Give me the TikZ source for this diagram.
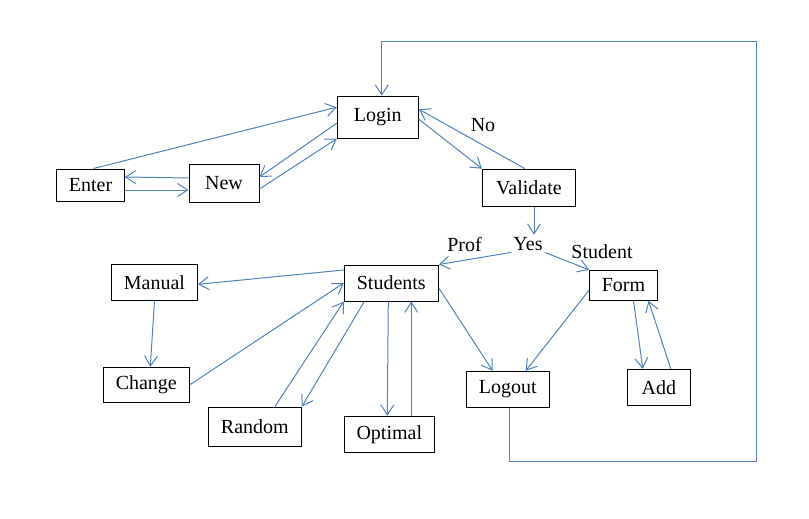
\documentclass[tikz,border=0pt]{standalone}
\usepackage{fontspec}
\setmainfont{Liberation Serif}
\usetikzlibrary{arrows.meta}
\definecolor{flowblue}{RGB}{79,129,189}
\tikzset{
  stepbox/.style={draw=black,line width=1pt,inner sep=0pt,
                  font=\fontsize{20}{24}\selectfont},
  flow/.style={draw=flowblue,line width=1pt,
               -{Straight Barb[length=10pt,width=13pt]}},
  tag/.style={anchor=base,inner sep=2pt,font=\fontsize{20}{24}\selectfont}
}

\begin{document}
\begin{tikzpicture}[x=1pt,y=-1pt]
        \useasboundingbox (0,0) rectangle (809,519);
        % boxes
        \node[stepbox,minimum width=81pt,minimum height=42pt] (login) at (377.8,117.2) {Login};
        \node[stepbox,minimum width=67.6pt,minimum height=32pt] (enter) at (90.5,185) {Enter};
        \node[stepbox,minimum width=70pt,minimum height=38pt] (new) at (224,183) {New};
        \node[stepbox,minimum width=93pt,minimum height=37pt] (validate) at (529,187.7) {Validate};
        \node[stepbox,minimum width=94pt,minimum height=36pt] (students) at (391.3,283) {Students};
        \node[stepbox,minimum width=86pt,minimum height=36pt] (manual) at (154.5,282.3) {Manual};
        \node[stepbox,minimum width=86pt,minimum height=35pt] (change) at (146.3,384.8) {Change};
        \node[stepbox,minimum width=93pt,minimum height=39pt] (random) at (254.8,426.7) {Random};
        \node[stepbox,minimum width=90pt,minimum height=36pt] (optimal) at (389.3,434.2) {Optimal};
        \node[stepbox,minimum width=83pt,minimum height=36pt] (logout) at (507.7,389.3) {Logout};
        \node[stepbox,minimum width=68pt,minimum height=30pt] (form) at (623.5,285.3) {Form};
        \node[stepbox,minimum width=63pt,minimum height=36pt] (add) at (658.8,387.3) {Add};
        % labels
        \node[tag] (yes) at (528,250) {Yes};
        \node[tag] (no) at (483,131) {No};
        \node[tag] (prof) at (464.5,251) {Prof};
        \node[tag] (student) at (602,258) {Student};
        % login part
        \draw[flow] ([xshift=3pt]enter.north) -- ([yshift=10pt]login.west);
        \draw[flow] ([yshift=5pt]new.west) -- ([yshift=8pt]enter.east);
        \draw[flow] ([yshift=-5pt]enter.east) -- ([yshift=-7pt]new.west);
        \draw[flow] ([yshift=-6pt]login.west) -- ([yshift=6pt]new.east);
        \draw[flow] ([yshift=-6pt]new.east) -- (login.south west);
        \draw[flow] ([yshift=-2pt]login.east) -- (validate.north west);
        \draw[flow] ([xshift=-4pt]validate.north) -- ([yshift=8pt]login.east);
        \draw[flow] ([xshift=5pt]validate.south) -- ([xshift=6pt]yes.north);
        \draw[flow] (yes.south west) -- (students.north east);
        \draw[flow] (yes.south east) -- (form.north west);
        % prof side
        \draw[flow] ([yshift=13pt]students.west) -- ([yshift=-2pt]manual.east);
        \draw[flow] (manual.south) -- ([xshift=4pt]change.north);
        \draw[flow] (change.east) -- (students.west);
        \draw[flow] ([xshift=20pt]random.north) -- (students.south west);
        \draw[flow] ([xshift=-27pt]students.south) -- (random.north east);
        \draw[flow] ([xshift=-3pt]students.south) -- ([xshift=-2pt]optimal.north);
        \draw[flow] ([xshift=22pt]optimal.north) -- ([xshift=20pt]students.south);
        \draw[flow] ([yshift=-5pt]students.east) -- ([xshift=-15pt]logout.north);
        % student side
        \draw[flow] ([yshift=-5pt]form.west) -- ([xshift=18pt]logout.north);
        \draw[flow] ([xshift=10pt]form.south) -- ([xshift=-16pt]add.north);
        \draw[flow] ([xshift=12pt]add.north) -- ([xshift=25pt]form.south);
        % back to login
        \coordinate (loopse) at (756,461);
        \coordinate (loopne) at (756,42);
        \draw[flow] ([xshift=2pt]logout.south) |- (loopse) -- (loopne) -| ([xshift=4pt]login.north);
      \end{tikzpicture}
\end{document}
